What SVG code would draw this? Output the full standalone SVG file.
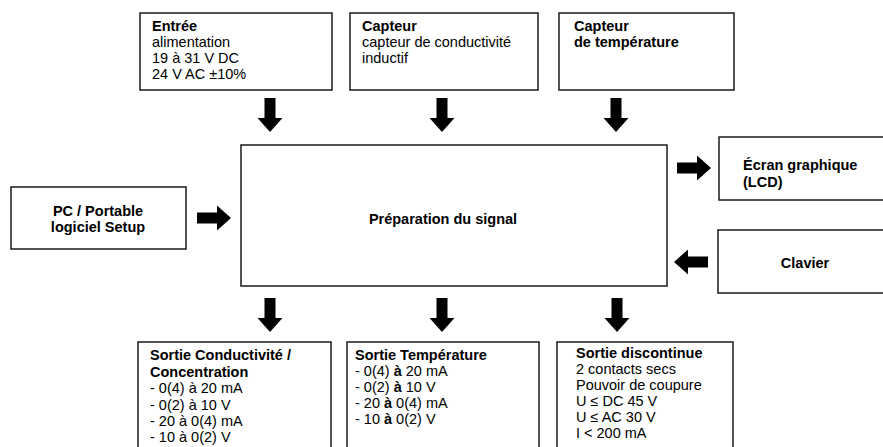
<svg xmlns="http://www.w3.org/2000/svg" width="883" height="447" viewBox="0 0 883 447">
<defs>
<style>
.box{fill:#fff;stroke:#1a1a1a;stroke-width:1.5}
text{font-family:"Liberation Sans",Arial,sans-serif;font-size:14.5px;fill:#000}
.b{font-weight:bold}
.m{text-anchor:middle}
.arr{fill:#000}
</style>
<path id="ad" d="M-5.5,0 H5.5 V20 H12.5 L0,34 L-12.5,20 H-5.5 Z"/>
</defs>
<rect width="883" height="447" fill="#fff"/>
<g id="connectors" class="arr">
<use href="#ad" x="270" y="98"/>
<use href="#ad" x="442" y="98"/>
<use href="#ad" x="616" y="98"/>
<use href="#ad" x="270" y="298"/>
<use href="#ad" x="442" y="298"/>
<use href="#ad" x="617" y="298"/>
<use href="#ad" transform="translate(197,218) rotate(-90)"/>
<use href="#ad" transform="translate(677,168) rotate(-90)"/>
<use href="#ad" transform="translate(708,262) rotate(90)"/>
</g>
<g id="entree">
<rect class="box" x="140" y="13" width="192" height="77"/>
<text x="152" y="31"><tspan class="b">Entrée</tspan><tspan x="152" y="47">alimentation</tspan><tspan x="152" y="63">19 à 31 V DC</tspan><tspan x="152" y="79">24 V AC ±10%</tspan></text>
</g>
<g id="capteur">
<rect class="box" x="350" y="13" width="188" height="77"/>
<text x="362" y="31"><tspan class="b">Capteur</tspan><tspan x="362" y="47">capteur de conductivité</tspan><tspan x="362" y="63">inductif</tspan></text>
</g>
<g id="capteur-temp">
<rect class="box" x="559" y="13" width="175" height="77"/>
<text x="574" y="31" class="b">Capteur<tspan x="574" y="47">de température</tspan></text>
</g>
<g id="preparation">
<rect class="box" x="241" y="145" width="426" height="141"/>
<text x="443" y="224" class="b m">Préparation du signal</text>
</g>
<g id="pc">
<rect class="box" x="11" y="187" width="175" height="62"/>
<text x="98" y="216" class="b m">PC / Portable<tspan x="98" y="232">logiciel Setup</tspan></text>
</g>
<g id="ecran">
<rect class="box" x="719" y="137" width="170" height="63"/>
<text x="743" y="170" class="b">Écran graphique<tspan x="743" y="187">(LCD)</tspan></text>
</g>
<g id="clavier">
<rect class="box" x="718" y="230" width="170" height="63"/>
<text x="805" y="268" class="b m">Clavier</text>
</g>
<g id="sortie-cond">
<rect class="box" x="138" y="342" width="193" height="120"/>
<text x="150" y="360"><tspan class="b">Sortie Conductivité /</tspan><tspan x="150" y="376.5" class="b">Concentration</tspan><tspan x="150" y="393">- 0(4) à 20 mA</tspan><tspan x="150" y="409.5">- 0(2) à 10 V</tspan><tspan x="150" y="425.5">- 20 à 0(4) mA</tspan><tspan x="150" y="441.5">- 10 à 0(2) V</tspan></text>
</g>
<g id="sortie-temp">
<rect class="box" x="347" y="342" width="192" height="120"/>
<text x="355" y="360"><tspan class="b">Sortie Température</tspan><tspan x="355" y="376">- 0(4) <tspan class="b">à</tspan> 20 mA</tspan><tspan x="355" y="392">- 0(2) <tspan class="b">à</tspan> 10 V</tspan><tspan x="355" y="408">- 20 <tspan class="b">à</tspan> 0(4) mA</tspan><tspan x="355" y="424">- 10 <tspan class="b">à</tspan> 0(2) V</tspan></text>
</g>
<g id="sortie-disc">
<rect class="box" x="557" y="342" width="176" height="120"/>
<text x="576" y="358"><tspan class="b">Sortie discontinue</tspan><tspan x="576" y="374">2 contacts  secs</tspan><tspan x="576" y="390">Pouvoir de coupure</tspan><tspan x="576" y="406">U ≤ DC 45 V</tspan><tspan x="576" y="422">U ≤ AC 30 V</tspan><tspan x="576" y="438">I &lt; 200 mA</tspan></text>
</g>
</svg>
